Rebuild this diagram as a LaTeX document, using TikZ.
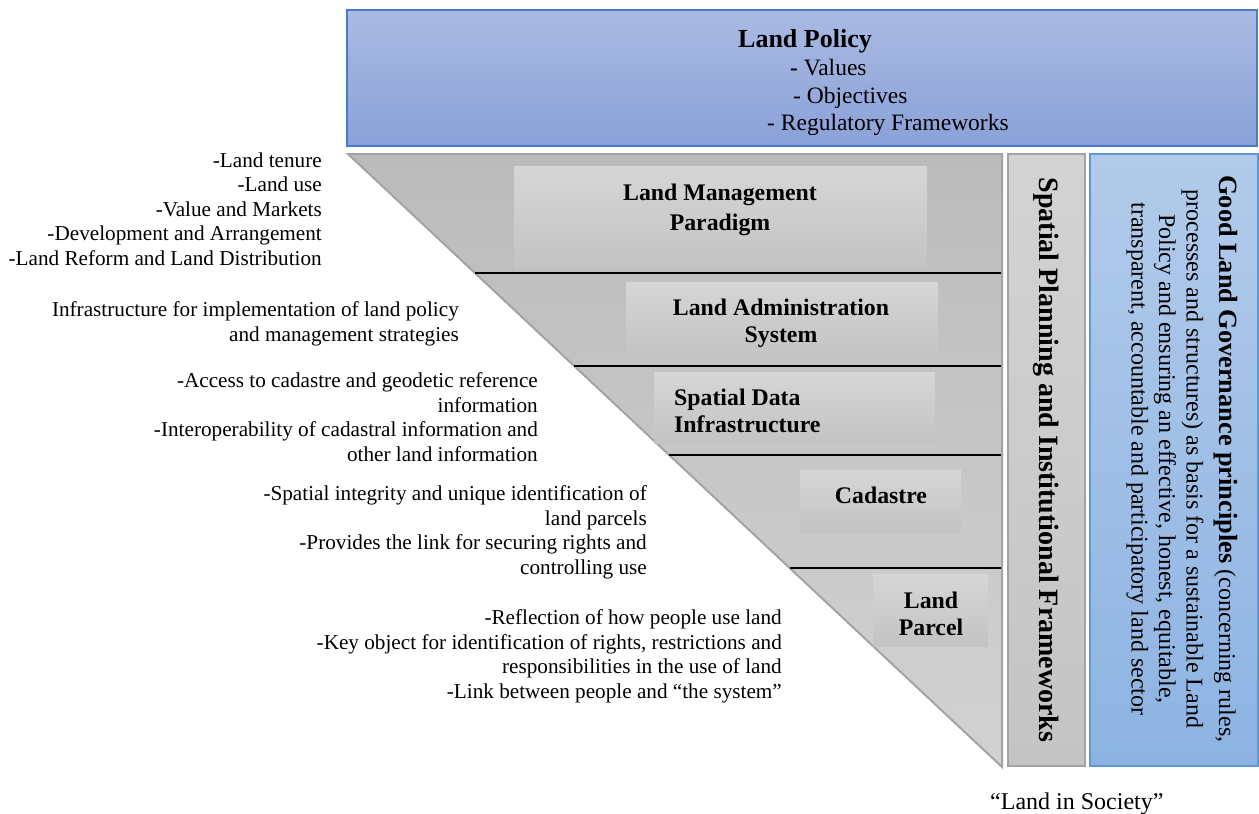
\documentclass[tikz,border=0pt]{standalone}
\usepackage{fontspec}
\setmainfont{Liberation Serif}
\definecolor{polTop}{HTML}{AABAE2}
\definecolor{polBot}{HTML}{8AA1D8}
\definecolor{polBorder}{HTML}{4A7BC8}
\definecolor{triTop}{HTML}{BBBBBB}
\definecolor{triBot}{HTML}{D2D2D2}
\definecolor{triBorder}{HTML}{A3A3A3}
\definecolor{inTop}{HTML}{D6D6D6}
\definecolor{inBot}{HTML}{C3C3C3}
\definecolor{spTop}{HTML}{D3D3D3}
\definecolor{spBot}{HTML}{C4C4C4}
\definecolor{glTop}{HTML}{B2CBEA}
\definecolor{glBot}{HTML}{8DB3E2}
\definecolor{glBorder}{HTML}{5B9BD5}
\begin{document}
\begin{tikzpicture}[x=1pt,y=-1pt,
  lefttext/.style={anchor=base east, align=right, inner sep=0pt, font=\fontsize{21.2}{24.5}\selectfont},
  boxlabel/.style={anchor=base, align=center, inner sep=0pt, font=\fontsize{23.8}{27}\selectfont\bfseries},
  innerbox/.style={top color=inTop, bottom color=inBot, draw=none, inner sep=0pt},
  sep/.style={line width=1.4pt, black}
]
\useasboundingbox (0,0) rectangle (1259,814);

% Land Policy box
\node[draw=polBorder, line width=1.5pt, top color=polTop, bottom color=polBot,
      minimum width=910pt, minimum height=136pt, inner sep=0pt] (policy) at (802,78) {};
\node[anchor=base, inner sep=0pt, font=\fontsize{26}{30}\selectfont\bfseries] (lptitle) at (805,47) {Land Policy};
\node[anchor=base west, inner sep=0pt, font=\fontsize{23.5}{27}\selectfont] (lpv) at (790,75) {\textbf{-} Values};
\node[anchor=base west, inner sep=0pt, font=\fontsize{23.5}{27}\selectfont] (lpo) at (793,103) {- Objectives};
\node[anchor=base west, inner sep=0pt, font=\fontsize{23.5}{27}\selectfont] (lpr) at (767,130) {- Regulatory Frameworks};

% triangle
\shade[top color=triTop, bottom color=triBot] (348,154) -- (1002,154) -- (1002,767) -- cycle;
\draw[triBorder, line width=2pt, line join=miter] (348,154) -- (1002,154) -- (1002,767) -- cycle;

% inner boxes
\node[innerbox, minimum width=413pt, minimum height=102pt] (lmpbox) at (720.5,217) {};
\node[innerbox, minimum width=312pt, minimum height=74pt] (lasbox) at (782,319) {};
\node[innerbox, minimum width=281pt, minimum height=71pt] (sdibox) at (794.5,407.5) {};
\node[innerbox, minimum width=161pt, minimum height=62pt] (cadbox) at (880.5,501) {};
\node[innerbox, minimum width=115pt, minimum height=72pt] (lpbox) at (930.5,610) {};

% separators
\draw[sep] (475,273) -- (1001,273);
\draw[sep] (574,366) -- (1001,366);
\draw[sep] (669,455) -- (1001,455);
\draw[sep] (790,568) -- (1001,568);

% labels (base anchor = baseline of the last line)
\node[boxlabel] (lmp) at (720,230) {Land Management\\[3pt]Paradigm};
\node[boxlabel] (las) at (781,342) {Land Administration\\System};
\node[boxlabel, anchor=base west, align=left] (sdi) at (674,432) {Spatial Data\\Infrastructure};
\node[boxlabel] (cad) at (881,503) {Cadastre};
\node[boxlabel] (lpar) at (931,635) {Land\\Parcel};

% side boxes
\node[draw=triBorder, line width=1.2pt, top color=spTop, bottom color=spBot,
      minimum width=77pt, minimum height=612pt, inner sep=0pt] (spbox) at (1046.5,460) {};
\node[rotate=-90, inner sep=0pt, font=\fontsize{28}{32}\selectfont\bfseries] (sptext) at (1046,460) {Spatial Planning and Institutional Frameworks};

\node[draw=glBorder, line width=1.2pt, top color=glTop, bottom color=glBot,
      minimum width=168pt, minimum height=612pt, inner sep=0pt] (glbox) at (1174,460) {};
\node[rotate=-90, inner sep=0pt, align=center, font=\fontsize{24}{27.5}\selectfont] (gltext) at (1182,459)
  {{\fontsize{26.3}{30}\selectfont\bfseries Good Land Governance principles} (concerning rules,\\[5pt]
   processes and structures) as basis for a sustainable Land\\
   Policy and ensuring an effective, honest, equitable,\\
   transparent, accountable and participatory land sector};

% left descriptions (base anchor = baseline of the last line)
\node[lefttext] (d1) at (322,265) {-Land tenure\\-Land use\\-Value and Markets\\-Development and Arrangement\\-Land Reform and Land Distribution};
\node[lefttext] (d2) at (459,341) {Infrastructure for implementation of land policy\\and management strategies};
\node[lefttext] (d3) at (538,461) {-Access to cadastre and geodetic reference\\information\\-Interoperability of cadastral information and\\other land information};
\node[lefttext] (d4) at (647,574) {-Spatial integrity and unique identification of\\land parcels\\-Provides the link for securing rights and\\controlling use};
\node[lefttext] (d5) at (782,698) {-Reflection of how people use land\\-Key object for identification of rights, restrictions and\\responsibilities in the use of land\\-Link between people and “the system”};

\node[anchor=base west, inner sep=0pt, font=\fontsize{24}{27}\selectfont] (society) at (990,809) {“Land in Society”};
\end{tikzpicture}
\end{document}
